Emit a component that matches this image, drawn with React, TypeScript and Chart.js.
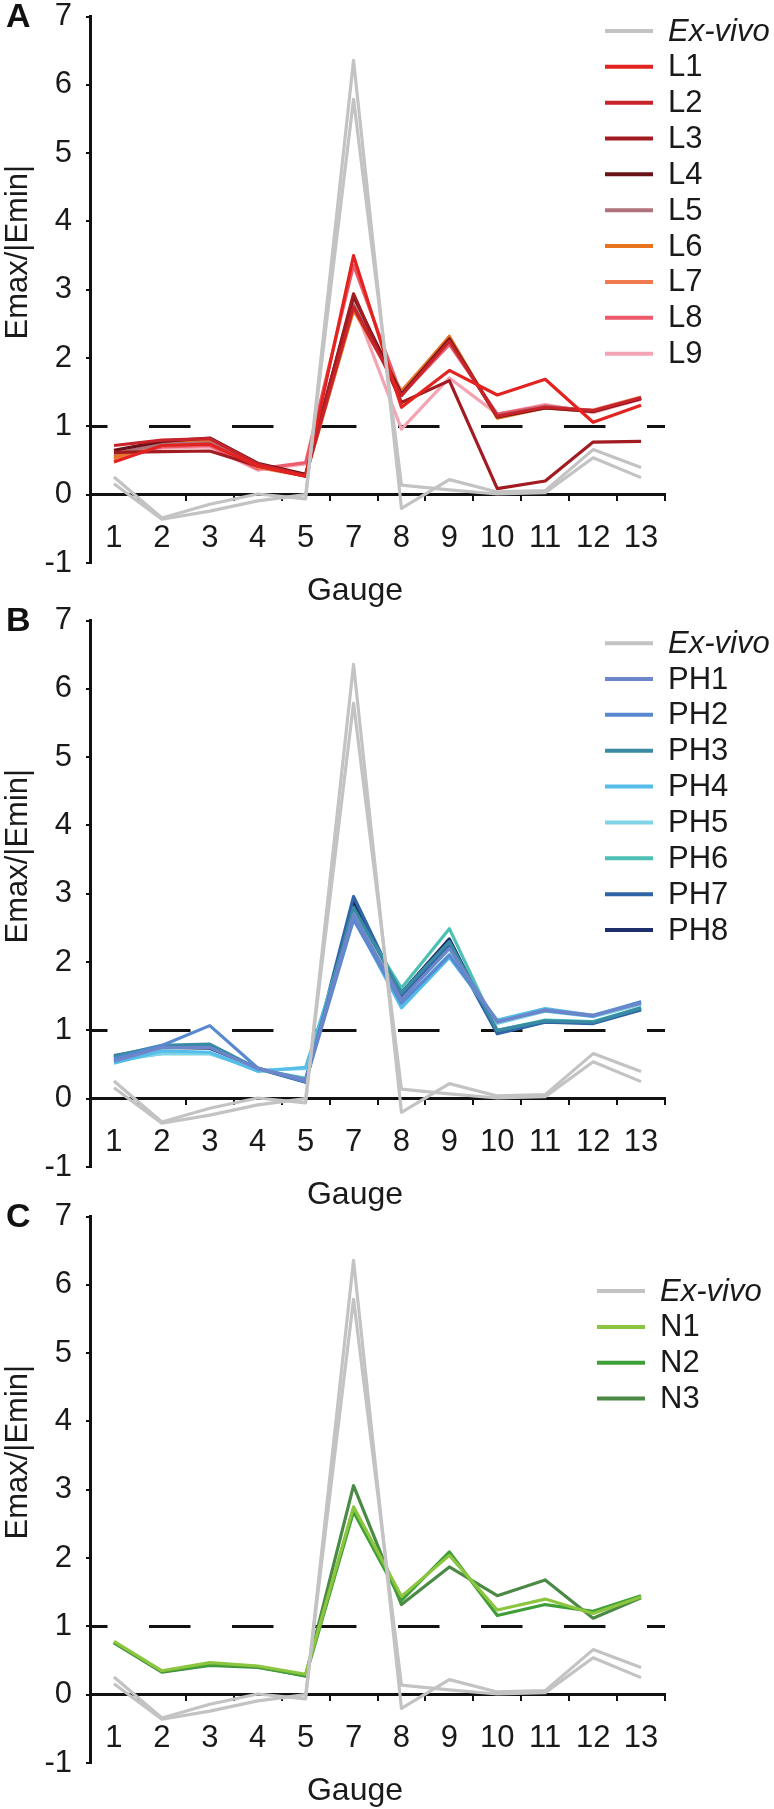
import React, { useEffect, useRef } from 'react';
import { Chart, registerables } from 'chart.js';

Chart.register(...registerables);

// ---------- data ----------
const GAUGES = ['1', '2', '3', '4', '5', '7', '8', '9', '10', '11', '12', '13'];
const Y_MIN = -1;
const Y_MAX = 7;
const Y_STEP = 1;
const THRESHOLD = 1;
const EX_VIVO_LABEL = 'Ex-vivo';
const X_TITLE = 'Gauge';
const Y_TITLE = 'Emax/|Emin|';

const EXVIVO_1 = [0.26, -0.34, -0.14, 0.01, -0.06, 6.36, -0.2, 0.22, 0.04, 0.06, 0.66, 0.4];
const EXVIVO_2 = [0.16, -0.36, -0.24, -0.09, 0.0, 5.79, 0.14, 0.07, 0.01, 0.03, 0.54, 0.25];

const L_LABELS = ['L1', 'L2', 'L3', 'L4', 'L5', 'L6', 'L7', 'L8', 'L9'];
const L1 = [0.48, 0.72, 0.74, 0.42, 0.27, 3.5, 1.28, 1.82, 1.46, 1.69, 1.06, 1.31];
const L2 = [0.72, 0.8, 0.82, 0.45, 0.28, 2.75, 1.45, 2.25, 1.15, 1.28, 1.23, 1.42];
const L3 = [0.62, 0.63, 0.64, 0.42, 0.27, 2.94, 1.35, 1.67, 0.09, 0.2, 0.77, 0.78];
const L4 = [0.65, 0.78, 0.83, 0.46, 0.3, 2.9, 1.47, 2.28, 1.14, 1.27, 1.22, 1.41];
const L5 = [0.6, 0.74, 0.76, 0.44, 0.29, 2.78, 1.48, 2.24, 1.16, 1.29, 1.23, 1.42];
const L6 = [0.55, 0.76, 0.78, 0.42, 0.28, 2.7, 1.5, 2.32, 1.12, 1.27, 1.22, 1.42];
const L7 = [0.52, 0.75, 0.77, 0.4, 0.27, 2.72, 1.52, 2.3, 1.13, 1.28, 1.24, 1.43];
const L8 = [0.57, 0.7, 0.72, 0.38, 0.47, 3.36, 1.46, 2.2, 1.18, 1.3, 1.22, 1.4];
const L9 = [0.53, 0.68, 0.7, 0.36, 0.45, 2.8, 0.96, 1.71, 1.18, 1.32, 1.2, 1.4];

const PH_LABELS = ['PH1', 'PH2', 'PH3', 'PH4', 'PH5', 'PH6', 'PH7', 'PH8'];
const PH1 = [0.55, 0.75, 0.75, 0.44, 0.28, 2.7, 1.45, 2.2, 1.12, 1.3, 1.22, 1.4];
const PH2 = [0.58, 0.78, 1.07, 0.45, 0.25, 2.62, 1.4, 2.1, 1.13, 1.29, 1.21, 1.42];
const PH3 = [0.62, 0.78, 0.8, 0.44, 0.27, 2.8, 1.55, 2.3, 1.0, 1.14, 1.12, 1.33];
const PH4 = [0.52, 0.7, 0.68, 0.4, 0.46, 2.65, 1.33, 2.07, 1.15, 1.32, 1.22, 1.42];
const PH5 = [0.55, 0.66, 0.66, 0.42, 0.44, 2.7, 1.38, 2.12, 1.1, 1.28, 1.2, 1.38];
const PH6 = [0.58, 0.66, 0.66, 0.43, 0.3, 2.75, 1.62, 2.49, 1.0, 1.15, 1.13, 1.33];
const PH7 = [0.63, 0.76, 0.76, 0.44, 0.24, 2.96, 1.5, 2.24, 0.95, 1.12, 1.1, 1.3];
const PH8 = [0.6, 0.75, 0.74, 0.45, 0.25, 2.88, 1.55, 2.34, 0.97, 1.13, 1.11, 1.32];

const N_LABELS = ['N1', 'N2', 'N3'];
const N1 = [0.78, 0.35, 0.47, 0.42, 0.3, 2.75, 1.44, 2.04, 1.24, 1.4, 1.19, 1.43];
const N2 = [0.77, 0.34, 0.44, 0.41, 0.27, 2.68, 1.38, 2.09, 1.16, 1.32, 1.22, 1.45];
const N3 = [0.76, 0.33, 0.43, 0.4, 0.28, 3.06, 1.32, 1.87, 1.45, 1.68, 1.12, 1.42];

// ---------- styles ----------
const GRAY = '#c3c3c3';
const L_COLORS = ['#e2231f', '#c8232b', '#a11b21', '#6a1217', '#b0727b', '#e8741f', '#ef7a50', '#ec5a6c', '#f4a3b3'];
const PH_COLORS = ['#6d86c9', '#5889d0', '#3a8aa4', '#55bde9', '#80d3e6', '#4cc0b4', '#2f64a6', '#1d2e6a'];
const N_COLORS = ['#8cc63f', '#3e9e37', '#4b8a46'];

const FONT = '"Liberation Sans", Arial, Helvetica, sans-serif';
const TEXT = '#1a1a1a';
const PAD_TOP = 30;
const PAD_BOTTOM = 50;
const PLOT_H = 549;
const CANVAS_W = 774;
const CANVAS_H = PAD_TOP + PLOT_H + PAD_BOTTOM;

type Panel = {
  letter: string;
  top: number; // page y of value 7
  labels: string[];
  series: number[][];
  colors: string[];
  legendStart: number; // in axis units
  legendX: number;
};

const PANELS: Panel[] = [
  { letter: 'A', top: 14, labels: L_LABELS, series: [L1, L2, L3, L4, L5, L6, L7, L8, L9], colors: L_COLORS, legendStart: 6.79, legendX: 605 },
  { letter: 'B', top: 618, labels: PH_LABELS, series: [PH1, PH2, PH3, PH4, PH5, PH6, PH7, PH8], colors: PH_COLORS, legendStart: 6.67, legendX: 605 },
  { letter: 'C', top: 1214, labels: N_LABELS, series: [N1, N2, N3], colors: N_COLORS, legendStart: 5.91, legendX: 597 },
];

function makeDecor(panel: Panel) {
  return {
    id: 'decor' + panel.letter,
    beforeDatasetsDraw(chart: any) {
      const { ctx, chartArea, scales } = chart;
      const yp = scales.y.getPixelForValue(THRESHOLD);
      ctx.save();
      ctx.strokeStyle = '#111';
      ctx.lineWidth = 3;
      ctx.setLineDash([41.5, 41.5]);
      ctx.lineDashOffset = 24;
      ctx.beginPath();
      ctx.moveTo(chartArea.left, yp);
      ctx.lineTo(chartArea.right, yp);
      ctx.stroke();
      ctx.restore();
    },
    afterDraw(chart: any) {
      const { ctx, scales } = chart;
      const y = scales.y;
      const unit = y.getPixelForValue(0) - y.getPixelForValue(1);
      ctx.save();
      // legend
      const entries = [{ label: EX_VIVO_LABEL, color: GRAY, italic: true }].concat(
        panel.labels.map((l, i) => ({ label: l, color: panel.colors[i], italic: false }))
      );
      let yy = y.getPixelForValue(panel.legendStart);
      const step = unit * 0.525;
      entries.forEach((e) => {
        ctx.strokeStyle = e.color;
        ctx.lineWidth = 4;
        ctx.setLineDash([]);
        ctx.beginPath();
        ctx.moveTo(panel.legendX, yy);
        ctx.lineTo(panel.legendX + 48, yy);
        ctx.stroke();
        ctx.fillStyle = TEXT;
        ctx.font = (e.italic ? 'italic ' : '') + '31px ' + FONT;
        ctx.textAlign = 'left';
        ctx.textBaseline = 'middle';
        ctx.fillText(e.label, panel.legendX + 63, yy + 1);
        yy += step;
      });
      // panel letter
      ctx.fillStyle = '#111';
      ctx.font = 'bold 34px ' + FONT;
      ctx.textAlign = 'left';
      ctx.textBaseline = 'middle';
      ctx.fillText(panel.letter, 6, y.getPixelForValue(Y_MAX) + 1);
      // x title
      ctx.fillStyle = TEXT;
      ctx.font = '32px ' + FONT;
      ctx.textAlign = 'center';
      ctx.fillText(X_TITLE, 355, y.getPixelForValue(Y_MIN) + 28);
      // y title
      ctx.translate(18, y.getPixelForValue(3.55));
      ctx.rotate(-Math.PI / 2);
      ctx.font = '31px ' + FONT;
      ctx.fillText(Y_TITLE, 0, 0);
      ctx.restore();
    },
  };
}

function PanelChart({ panel }: { panel: Panel }) {
  const ref = useRef<HTMLCanvasElement>(null);
  useEffect(() => {
    if (!ref.current) return;
    const datasets: any[] = [
      { label: EX_VIVO_LABEL, data: EXVIVO_1, borderColor: GRAY, borderWidth: 3.2 },
      { label: EX_VIVO_LABEL + ' 2', data: EXVIVO_2, borderColor: GRAY, borderWidth: 3.2 },
    ];
    panel.series.forEach((s, i) => {
      datasets.push({ label: panel.labels[i], data: s, borderColor: panel.colors[i], borderWidth: 3.2 });
    });
    const chart = new Chart(ref.current, {
      type: 'line',
      data: { labels: GAUGES, datasets },
      options: {
        responsive: false,
        animation: false,
        devicePixelRatio: 1,
        layout: { padding: { top: PAD_TOP, bottom: PAD_BOTTOM, left: 0, right: 109 } },
        plugins: { legend: { display: false }, tooltip: { enabled: false } },
        elements: {
          point: { radius: 0, hoverRadius: 0 },
          line: { tension: 0, fill: false, borderJoinStyle: 'round', borderCapStyle: 'butt' },
        },
        scales: {
          x: {
            type: 'category',
            position: { y: 0 } as any,
            offset: true,
            grid: { display: true, drawOnChartArea: false, drawTicks: true, tickLength: 5, color: '#111', lineWidth: 2, offset: true },
            border: { display: true, color: '#111', width: 3 },
            ticks: { color: TEXT, font: { family: FONT, size: 31 }, padding: 20, maxRotation: 0, autoSkip: false },
          },
          y: {
            type: 'linear',
            min: Y_MIN,
            max: Y_MAX,
            ticks: { stepSize: Y_STEP, color: TEXT, font: { family: FONT, size: 31 }, padding: 14 },
            grid: { display: true, drawOnChartArea: false, drawTicks: true, tickLength: 4, color: '#111', lineWidth: 2 },
            border: { display: true, color: '#111', width: 3 },
            afterFit: (s: any) => {
              s.width = 90;
            },
          },
        },
      },
      plugins: [makeDecor(panel)],
    });
    return () => chart.destroy();
  }, [panel]);
  return (
    <canvas
      ref={ref}
      width={CANVAS_W}
      height={CANVAS_H}
      style={{ position: 'absolute', left: 0, top: panel.top - PAD_TOP, width: CANVAS_W, height: CANVAS_H }}
    />
  );
}

export default function App() {
  return (
    <div style={{ position: 'absolute', left: 0, top: 0, width: 774, height: 1809, overflow: 'hidden', background: '#fff' }}>
      {PANELS.map((p) => (
        <PanelChart key={p.letter} panel={p} />
      ))}
    </div>
  );
}
